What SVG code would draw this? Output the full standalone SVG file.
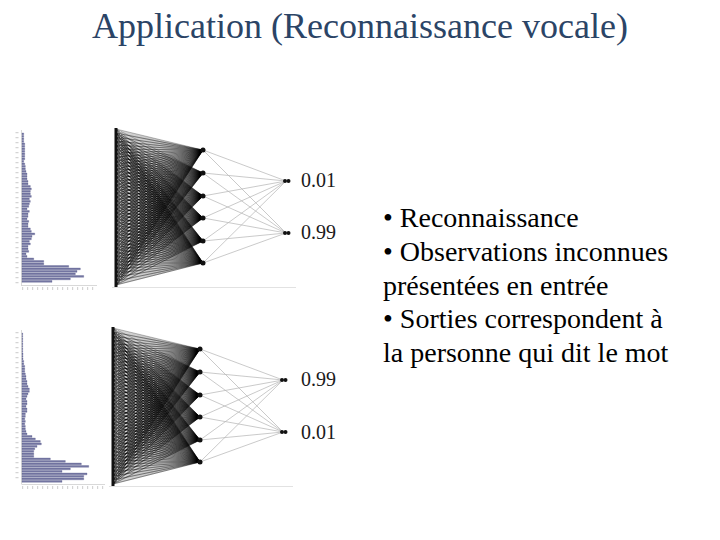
<svg xmlns="http://www.w3.org/2000/svg" xmlns:xlink="http://www.w3.org/1999/xlink" width="720" height="540" viewBox="0 0 720 540">
<style>
.title{font-family:"Liberation Serif","Times New Roman",serif;font-size:36px;fill:#2b4466}
.body{font-family:"Liberation Serif","Times New Roman",serif;font-size:28px;fill:#000}
.val{font-family:"Liberation Serif","Times New Roman",serif;font-size:20px;fill:#1a1a1a}
.fan{fill:none;stroke:#000;stroke-opacity:0.36;stroke-width:0.7;stroke-linejoin:round}
.ho{fill:none;stroke:#b8b8b8;stroke-width:0.75}
.bar{fill:#7577a3;stroke:#545788;stroke-width:0.3}
.axis{fill:none;stroke:#cfcfcf;stroke-width:0.8}
.tick{fill:none;stroke:#d4d4d4;stroke-width:3;stroke-dasharray:1.2 3.8}
.node{fill:#111}
</style>
<defs>
<linearGradient id="shade" x1="0" y1="0" x2="1" y2="0">
<stop offset="0" stop-color="#000" stop-opacity="0.16"/>
<stop offset="1" stop-color="#000" stop-opacity="0.3"/>
</linearGradient>
<g id="net">
<polygon points="116,129 203,150 192,167.3 203,173 192,187.4 203,196 192.2,207 203,218 192,226.6 203,241 192.2,246.4 203,263 116,285" fill="url(#shade)"/>
<g id="fans">
<path class="fan" d="M116 129L203 150L116 133L203 150L116 137L203 150L116 141L203 150L116 145L203 150L116 149L203 150L116 153L203 150L116 157L203 150L116 161L203 150L116 165L203 150L116 169L203 150L116 173L203 150L116 177L203 150L116 181L203 150L116 185L203 150L116 189L203 150L116 193L203 150L116 197L203 150L116 201L203 150L116 205L203 150L116 209L203 150L116 213L203 150L116 217L203 150L116 221L203 150L116 225L203 150L116 229L203 150L116 233L203 150L116 237L203 150L116 241L203 150L116 245L203 150L116 249L203 150L116 253L203 150L116 257L203 150L116 261L203 150L116 265L203 150L116 269L203 150L116 273L203 150L116 277L203 150L116 281L203 150L116 285L203 150"/>
<path class="fan" d="M116 129L203 173L116 133L203 173L116 137L203 173L116 141L203 173L116 145L203 173L116 149L203 173L116 153L203 173L116 157L203 173L116 161L203 173L116 165L203 173L116 169L203 173L116 173L203 173L116 177L203 173L116 181L203 173L116 185L203 173L116 189L203 173L116 193L203 173L116 197L203 173L116 201L203 173L116 205L203 173L116 209L203 173L116 213L203 173L116 217L203 173L116 221L203 173L116 225L203 173L116 229L203 173L116 233L203 173L116 237L203 173L116 241L203 173L116 245L203 173L116 249L203 173L116 253L203 173L116 257L203 173L116 261L203 173L116 265L203 173L116 269L203 173L116 273L203 173L116 277L203 173L116 281L203 173L116 285L203 173"/>
<path class="fan" d="M116 129L203 196L116 133L203 196L116 137L203 196L116 141L203 196L116 145L203 196L116 149L203 196L116 153L203 196L116 157L203 196L116 161L203 196L116 165L203 196L116 169L203 196L116 173L203 196L116 177L203 196L116 181L203 196L116 185L203 196L116 189L203 196L116 193L203 196L116 197L203 196L116 201L203 196L116 205L203 196L116 209L203 196L116 213L203 196L116 217L203 196L116 221L203 196L116 225L203 196L116 229L203 196L116 233L203 196L116 237L203 196L116 241L203 196L116 245L203 196L116 249L203 196L116 253L203 196L116 257L203 196L116 261L203 196L116 265L203 196L116 269L203 196L116 273L203 196L116 277L203 196L116 281L203 196L116 285L203 196"/>
<path class="fan" d="M116 129L203 218L116 133L203 218L116 137L203 218L116 141L203 218L116 145L203 218L116 149L203 218L116 153L203 218L116 157L203 218L116 161L203 218L116 165L203 218L116 169L203 218L116 173L203 218L116 177L203 218L116 181L203 218L116 185L203 218L116 189L203 218L116 193L203 218L116 197L203 218L116 201L203 218L116 205L203 218L116 209L203 218L116 213L203 218L116 217L203 218L116 221L203 218L116 225L203 218L116 229L203 218L116 233L203 218L116 237L203 218L116 241L203 218L116 245L203 218L116 249L203 218L116 253L203 218L116 257L203 218L116 261L203 218L116 265L203 218L116 269L203 218L116 273L203 218L116 277L203 218L116 281L203 218L116 285L203 218"/>
<path class="fan" d="M116 129L203 241L116 133L203 241L116 137L203 241L116 141L203 241L116 145L203 241L116 149L203 241L116 153L203 241L116 157L203 241L116 161L203 241L116 165L203 241L116 169L203 241L116 173L203 241L116 177L203 241L116 181L203 241L116 185L203 241L116 189L203 241L116 193L203 241L116 197L203 241L116 201L203 241L116 205L203 241L116 209L203 241L116 213L203 241L116 217L203 241L116 221L203 241L116 225L203 241L116 229L203 241L116 233L203 241L116 237L203 241L116 241L203 241L116 245L203 241L116 249L203 241L116 253L203 241L116 257L203 241L116 261L203 241L116 265L203 241L116 269L203 241L116 273L203 241L116 277L203 241L116 281L203 241L116 285L203 241"/>
<path class="fan" d="M116 129L203 263L116 133L203 263L116 137L203 263L116 141L203 263L116 145L203 263L116 149L203 263L116 153L203 263L116 157L203 263L116 161L203 263L116 165L203 263L116 169L203 263L116 173L203 263L116 177L203 263L116 181L203 263L116 185L203 263L116 189L203 263L116 193L203 263L116 197L203 263L116 201L203 263L116 205L203 263L116 209L203 263L116 213L203 263L116 217L203 263L116 221L203 263L116 225L203 263L116 229L203 263L116 233L203 263L116 237L203 263L116 241L203 263L116 245L203 263L116 249L203 263L116 253L203 263L116 257L203 263L116 261L203 263L116 265L203 263L116 269L203 263L116 273L203 263L116 277L203 263L116 281L203 263L116 285L203 263"/>
</g>
<path class="ho" d="M203 150L286 181M203 150L286 233M203 173L286 181M203 173L286 233M203 196L286 181M203 196L286 233M203 218L286 181M203 218L286 233M203 241L286 181M203 241L286 233M203 263L286 181M203 263L286 233"/>
<line x1="112" y1="287.5" x2="296" y2="287.5" stroke="#e2e2e2" stroke-width="1"/>
<line x1="120.5" y1="131" x2="120.5" y2="284" stroke="#fff" stroke-opacity="0.55" stroke-width="1" stroke-dasharray="1 2"/>
<rect x="114.5" y="128" width="3" height="159" class="node"/>
<g class="node">
<circle cx="203" cy="150" r="2.5"/><circle cx="203" cy="173" r="2.5"/><circle cx="203" cy="196" r="2.5"/>
<circle cx="203" cy="218" r="2.5"/><circle cx="203" cy="241" r="2.5"/><circle cx="203" cy="263" r="2.5"/>
<circle cx="285" cy="181" r="2"/><circle cx="288.5" cy="181" r="2"/>
<circle cx="285" cy="233" r="2"/><circle cx="288.5" cy="233" r="2"/>
</g>
</g>
</defs>

<g id="title"><text class="title" x="360" y="38" text-anchor="middle">Application (Reconnaissance vocale)</text></g>

<g id="histogram-1">
<line class="tick" x1="17" y1="132" x2="17" y2="284"/>
<line class="axis" x1="21.5" y1="130" x2="21.5" y2="286"/>
<line class="axis" x1="21.5" y1="285.5" x2="97" y2="285.5"/>
<line class="tick" x1="22" y1="288.5" x2="97" y2="288.5" stroke-dasharray="1.5 11" stroke-width="2"/>
<path class="bar" d="M22 133h1.7v1.8H22zm0 2.5h1.7v1.8H22zm0 2.5h1.7v1.8H22zm0 2.5h1.7v1.8H22zm0 2.5h2.7v1.8H22zm0 2.5h2.7v1.8H22zm0 2.5h2.7v1.8H22zm0 2.5h2.7v1.8H22zm0 2.5h2.7v1.8H22zm0 2.5h2.7v1.8H22zm0 2.5h2.7v1.8H22zm0 2.5h1.7v1.8H22zm0 2.5h2.7v1.8H22zm0 2.5h3.3v1.8H22zm0 2.5h3.3v1.8H22zm0 2.5h4v1.8H22zm0 2.5h5v1.8H22zm0 2.5h5v1.8H22zm0 2.5h5v1.8H22zm0 2.5h6v1.8H22zm0 2.5h6v1.8H22zm0 2.5h8.3v1.8H22zm0 2.5h9.3v1.8H22zm0 2.5h8.3v1.8H22zm0 2.5h8.3v1.8H22zm0 2.5h9.3v1.8H22zm0 2.5h7.3v1.8H22zm0 2.5h8.3v1.8H22zm0 2.5h7.3v1.8H22zm0 2.5h6.7v1.8H22zm0 2.5h5v1.8H22zm0 2.5h7.3v1.8H22zm0 2.5h6v1.8H22zm0 2.5h6v1.8H22zm0 2.5h5v1.8H22zm0 2.5h6.7v1.8H22zm0 2.5h6v1.8H22zm0 2.5h6v1.8H22zm0 2.5h8.3v1.8H22zm0 2.5h9.3v1.8H22zm0 2.5h12.7v1.8H22zm0 2.5h10v1.8H22zm0 2.5h9.3v1.8H22zm0 2.5h7.3v1.8H22zm0 2.5h8.3v1.8H22zm0 2.5h6v1.8H22zm0 2.5h6v1.8H22zm0 2.5h6.7v1.8H22zm0 2.5h4v1.8H22zm0 2.5h5v1.8H22zm0 2.5h11.7v1.8H22zm0 2.5h21.7v1.8H22zm0 2.5h21.7v1.8H22zm0 2.5h46.7v1.8H22zm0 2.5h58.3v1.8H22zm0 2.5h55v1.8H22zm0 2.5h53.3v1.8H22zm0 2.5h61.7v1.8H22zm0 2.5h48.3v1.8H22zm0 2.5h30v1.8H22z"/>
</g>

<g id="histogram-2">
<line class="tick" x1="17" y1="332" x2="17" y2="482"/>
<line class="axis" x1="21.5" y1="330" x2="21.5" y2="484"/>
<line class="axis" x1="21.5" y1="484.5" x2="105" y2="484.5"/>
<line class="tick" x1="22" y1="487.5" x2="105" y2="487.5" stroke-dasharray="1.5 12.5" stroke-width="2"/>
<path class="bar" d="M22 333h0.7v1.8H22zm0 2.5h0.7v1.8H22zm0 2.5h0.7v1.8H22zm0 2.5h0.7v1.8H22zm0 2.5h0.7v1.8H22zm0 2.5h0.7v1.8H22zm0 2.5h0.7v1.8H22zm0 2.5h0.7v1.8H22zm0 2.5h1v1.8H22zm0 2.5h1v1.8H22zm0 2.5h1v1.8H22zm0 2.5h1.7v1.8H22zm0 2.5h1.7v1.8H22zm0 2.5h2.7v1.8H22zm0 2.5h2.7v1.8H22zm0 2.5h2.7v1.8H22zm0 2.5h3.3v1.8H22zm0 2.5h4v1.8H22zm0 2.5h4v1.8H22zm0 2.5h5v1.8H22zm0 2.5h5v1.8H22zm0 2.5h6v1.8H22zm0 2.5h7.3v1.8H22zm0 2.5h7.3v1.8H22zm0 2.5h6v1.8H22zm0 2.5h5v1.8H22zm0 2.5h4v1.8H22zm0 2.5h5v1.8H22zm0 2.5h5v1.8H22zm0 2.5h4v1.8H22zm0 2.5h5v1.8H22zm0 2.5h5v1.8H22zm0 2.5h3.3v1.8H22zm0 2.5h3.3v1.8H22zm0 2.5h2.7v1.8H22zm0 2.5h3.3v1.8H22zm0 2.5h2.7v1.8H22zm0 2.5h3.3v1.8H22zm0 2.5h3.3v1.8H22zm0 2.5h4v1.8H22zm0 2.5h5v1.8H22zm0 2.5h10v1.8H22zm0 2.5h13.3v1.8H22zm0 2.5h18.3v1.8H22zm0 2.5h19.3v1.8H22zm0 2.5h15v1.8H22zm0 2.5h12.7v1.8H22zm0 2.5h11.7v1.8H22zm0 2.5h11.7v1.8H22zm0 2.5h11.7v1.8H22zm0 2.5h28.3v1.8H22zm0 2.5h43.3v1.8H22zm0 2.5h59.3v1.8H22zm0 2.5h66.7v1.8H22zm0 2.5h48.3v1.8H22zm0 2.5h40v1.8H22zm0 2.5h65v1.8H22zm0 2.5h61.7v1.8H22zm0 2.5h61.7v1.8H22zm0 2.5h40v1.8H22z"/>
</g>

<g id="network-1"><use xlink:href="#net" href="#net"/></g>
<g id="network-2"><use xlink:href="#net" href="#net" transform="translate(-3,199)"/></g>

<g id="outputs-1">
<text class="val" x="301" y="187">0.01</text>
<text class="val" x="301" y="239">0.99</text>
</g>
<g id="outputs-2">
<text class="val" x="301" y="386">0.99</text>
<text class="val" x="301" y="439">0.01</text>
</g>

<g id="bullets" class="body">
<text x="383" y="227">• Reconnaissance</text>
<text x="383" y="261">• Observations inconnues</text>
<text x="383" y="295">présentées en entrée</text>
<text x="383" y="328">• Sorties correspondent à</text>
<text x="383" y="362">la personne qui dit le mot</text>
</g>
</svg>
